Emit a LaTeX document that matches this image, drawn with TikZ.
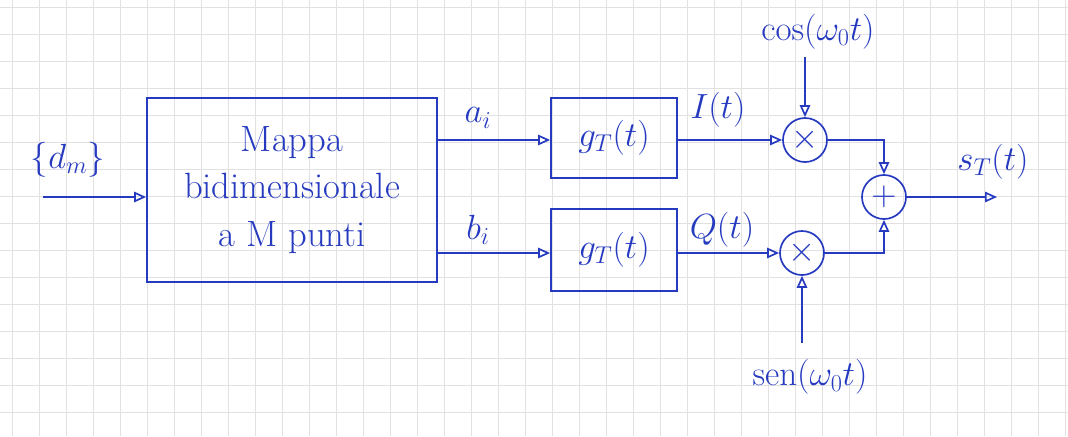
\documentclass[tikz,border=0pt]{standalone}
\usepackage{amsmath,amssymb}
\usepackage{tikz}
\usetikzlibrary{arrows.meta,positioning}
\usepackage{xcolor}
\definecolor{inkblue}{RGB}{38,58,192}
\definecolor{gridgray}{RGB}{225,225,225}
\tikzset{
  block/.style={rectangle, draw=inkblue, line width=1.2pt, align=center, text=inkblue,
                font=\fontsize{26}{34}\selectfont, inner sep=0pt},
  mixer/.style={circle, draw=inkblue, line width=1.2pt, minimum size=1.1cm, inner sep=0pt,
                text=inkblue, font=\fontsize{34}{34}\selectfont},
  arrow/.style={-{Triangle[open,length=3mm,width=2.6mm]}, line width=1.2pt, inkblue},
  label/.style={text=inkblue, font=\fontsize{24}{30}\selectfont},
  gridline/.style={gridgray, line width=0.6pt},
}
\begin{document}
\begin{tikzpicture}[x=0.025cm, y=-0.025cm]
\useasboundingbox (0,0) rectangle (1068,436);
% graph paper
\foreach \gx in {12,39,...,1068}
  \draw[gridline] (\gx,0) -- (\gx,436);
\foreach \gy in {7,34,...,436}
  \draw[gridline] (0,\gy) -- (1068,\gy);

% blocks
\node[block, minimum width=7.25cm, minimum height=4.6cm] (map) at (292,190)
  {Mappa\\bidimensionale\\a M punti};
\node[block, minimum width=3.15cm, minimum height=2cm] (gi) at (614,138) {$g_T(t)$};
\node[block, minimum width=3.15cm, minimum height=2.05cm] (gq) at (614,250) {$g_T(t)$};
\node[mixer] (mi) at (805,140) {$\times$};
\node[mixer] (mq) at (802,253) {$\times$};
\node[mixer] (sum) at (884,197) {$+$};

% free ends
\coordinate (in) at (43,197);
\coordinate (out) at (997,197);
\coordinate (cosend) at (805,57);
\coordinate (senend) at (802,343);

% labels
\node[label] (dm) at (68,160) {$\{d_m\}$};
\node[label] (ai) at (478,118) {$a_i$};
\node[label] (bi) at (478,230) {$b_i$};
\node[label] (it) at (718,110) {$I(t)$};
\node[label] (qt) at (722,230) {$Q(t)$};
\node[label] (cos) at (818,32) {$\cos(\omega_0 t)$};
\node[label] (sen) at (810,377) {$\mathrm{sen}(\omega_0 t)$};
\node[label] (st) at (993,162) {$s_T(t)$};

% connections
\draw[arrow] (in) -- (map.west |- in);
\draw[arrow] (map.east |- mi) -- (gi.west |- mi);
\draw[arrow] (map.east |- mq) -- (gq.west |- mq);
\draw[arrow] (gi.east |- mi) -- (mi);
\draw[arrow] (gq.east |- mq) -- (mq);
\draw[arrow] (cosend) -- (mi);
\draw[arrow] (senend) -- (mq);
\draw[arrow] (mi) -| (sum);
\draw[arrow] (mq) -| (sum);
\draw[arrow] (sum) -- (out);
\end{tikzpicture}
\end{document}
